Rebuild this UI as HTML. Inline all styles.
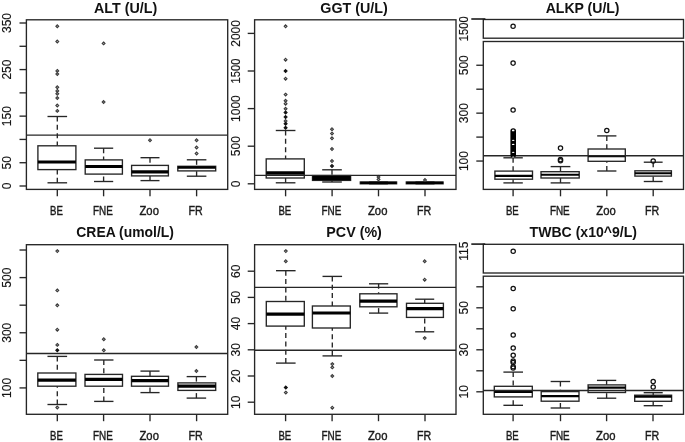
<!DOCTYPE html>
<html><head><meta charset="utf-8"><style>
html,body{margin:0;padding:0;background:#fff;}
body{width:685px;height:442px;overflow:hidden;}
svg{display:block;will-change:transform;font-family:"Liberation Sans",sans-serif;}
</style></head><body>
<svg width="685" height="442" viewBox="0 0 685 442">
<rect width="685" height="442" fill="#fff"/>
<line x1="57.30" y1="116.50" x2="57.30" y2="145.80" stroke="#262626" stroke-width="1.35" stroke-dasharray="5.0,3.35"/>
<line x1="57.30" y1="182.80" x2="57.30" y2="169.60" stroke="#262626" stroke-width="1.35" stroke-dasharray="5.0,3.35"/>
<line x1="47.50" y1="116.50" x2="67.10" y2="116.50" stroke="#262626" stroke-width="1.35"/>
<line x1="47.50" y1="182.80" x2="67.10" y2="182.80" stroke="#262626" stroke-width="1.35"/>
<rect x="37.90" y="145.80" width="38.00" height="23.80" fill="#fff" stroke="#262626" stroke-width="1.35"/>
<line x1="37.90" y1="162.00" x2="75.90" y2="162.00" stroke="#000" stroke-width="3.2"/>
<path d="M57.30 24.75L58.75 26.20L57.30 27.65L55.85 26.20Z" fill="#b0b0b0" stroke="#3a3a3a" stroke-width="1.05"/>
<path d="M57.30 40.05L58.75 41.50L57.30 42.95L55.85 41.50Z" fill="#b0b0b0" stroke="#3a3a3a" stroke-width="1.05"/>
<path d="M57.30 69.45L58.75 70.90L57.30 72.35L55.85 70.90Z" fill="#b0b0b0" stroke="#3a3a3a" stroke-width="1.05"/>
<path d="M57.30 72.55L58.75 74.00L57.30 75.45L55.85 74.00Z" fill="#b0b0b0" stroke="#3a3a3a" stroke-width="1.05"/>
<path d="M57.30 85.75L58.75 87.20L57.30 88.65L55.85 87.20Z" fill="#b0b0b0" stroke="#3a3a3a" stroke-width="1.05"/>
<path d="M57.30 89.45L58.75 90.90L57.30 92.35L55.85 90.90Z" fill="#b0b0b0" stroke="#3a3a3a" stroke-width="1.05"/>
<path d="M57.30 92.35L58.75 93.80L57.30 95.25L55.85 93.80Z" fill="#b0b0b0" stroke="#3a3a3a" stroke-width="1.05"/>
<path d="M57.30 96.55L58.75 98.00L57.30 99.45L55.85 98.00Z" fill="#b0b0b0" stroke="#3a3a3a" stroke-width="1.05"/>
<path d="M57.30 104.05L58.75 105.50L57.30 106.95L55.85 105.50Z" fill="#b0b0b0" stroke="#3a3a3a" stroke-width="1.05"/>
<path d="M57.30 109.45L58.75 110.90L57.30 112.35L55.85 110.90Z" fill="#b0b0b0" stroke="#3a3a3a" stroke-width="1.05"/>
<line x1="103.60" y1="148.20" x2="103.60" y2="159.90" stroke="#262626" stroke-width="1.35" stroke-dasharray="5.0,3.35"/>
<line x1="103.60" y1="181.50" x2="103.60" y2="174.10" stroke="#262626" stroke-width="1.35" stroke-dasharray="5.0,3.35"/>
<line x1="94.00" y1="148.20" x2="113.20" y2="148.20" stroke="#262626" stroke-width="1.35"/>
<line x1="94.00" y1="181.50" x2="113.20" y2="181.50" stroke="#262626" stroke-width="1.35"/>
<rect x="85.20" y="159.90" width="37.20" height="14.20" fill="#fff" stroke="#262626" stroke-width="1.35"/>
<line x1="85.20" y1="166.50" x2="122.40" y2="166.50" stroke="#000" stroke-width="3.2"/>
<path d="M103.60 41.95L105.05 43.40L103.60 44.85L102.15 43.40Z" fill="#b0b0b0" stroke="#3a3a3a" stroke-width="1.05"/>
<path d="M103.60 100.55L105.05 102.00L103.60 103.45L102.15 102.00Z" fill="#b0b0b0" stroke="#3a3a3a" stroke-width="1.05"/>
<line x1="150.00" y1="157.70" x2="150.00" y2="165.40" stroke="#262626" stroke-width="1.35" stroke-dasharray="5.0,3.35"/>
<line x1="150.00" y1="180.60" x2="150.00" y2="175.90" stroke="#262626" stroke-width="1.35" stroke-dasharray="5.0,3.35"/>
<line x1="140.50" y1="157.70" x2="159.50" y2="157.70" stroke="#262626" stroke-width="1.35"/>
<line x1="140.50" y1="180.60" x2="159.50" y2="180.60" stroke="#262626" stroke-width="1.35"/>
<rect x="131.60" y="165.40" width="36.80" height="10.50" fill="#fff" stroke="#262626" stroke-width="1.35"/>
<line x1="131.60" y1="171.80" x2="168.40" y2="171.80" stroke="#000" stroke-width="3.2"/>
<path d="M150.00 138.75L151.45 140.20L150.00 141.65L148.55 140.20Z" fill="#b0b0b0" stroke="#3a3a3a" stroke-width="1.05"/>
<line x1="196.60" y1="159.80" x2="196.60" y2="166.30" stroke="#262626" stroke-width="1.35" stroke-dasharray="5.0,3.35"/>
<line x1="196.60" y1="176.20" x2="196.60" y2="170.90" stroke="#262626" stroke-width="1.35" stroke-dasharray="5.0,3.35"/>
<line x1="186.82" y1="159.80" x2="206.38" y2="159.80" stroke="#262626" stroke-width="1.35"/>
<line x1="186.82" y1="176.20" x2="206.38" y2="176.20" stroke="#262626" stroke-width="1.35"/>
<rect x="177.80" y="166.30" width="37.90" height="4.60" fill="#fff" stroke="#262626" stroke-width="1.35"/>
<line x1="177.80" y1="167.50" x2="215.70" y2="167.50" stroke="#000" stroke-width="2.6"/>
<path d="M196.60 138.75L198.05 140.20L196.60 141.65L195.15 140.20Z" fill="#b0b0b0" stroke="#3a3a3a" stroke-width="1.05"/>
<path d="M196.60 146.05L198.05 147.50L196.60 148.95L195.15 147.50Z" fill="#b0b0b0" stroke="#3a3a3a" stroke-width="1.05"/>
<path d="M196.60 152.05L198.05 153.50L196.60 154.95L195.15 153.50Z" fill="#b0b0b0" stroke="#3a3a3a" stroke-width="1.05"/>
<line x1="26.40" y1="135.10" x2="227.70" y2="135.10" stroke="#262626" stroke-width="1.35"/>
<rect x="26.40" y="19.80" width="201.30" height="169.60" fill="none" stroke="#262626" stroke-width="1.35"/>
<line x1="19.50" y1="186.00" x2="26.40" y2="186.00" stroke="#262626" stroke-width="1.35"/>
<line x1="19.50" y1="162.72" x2="26.40" y2="162.72" stroke="#262626" stroke-width="1.35"/>
<line x1="19.50" y1="139.43" x2="26.40" y2="139.43" stroke="#262626" stroke-width="1.35"/>
<line x1="19.50" y1="116.14" x2="26.40" y2="116.14" stroke="#262626" stroke-width="1.35"/>
<line x1="19.50" y1="92.86" x2="26.40" y2="92.86" stroke="#262626" stroke-width="1.35"/>
<line x1="19.50" y1="69.58" x2="26.40" y2="69.58" stroke="#262626" stroke-width="1.35"/>
<line x1="19.50" y1="46.29" x2="26.40" y2="46.29" stroke="#262626" stroke-width="1.35"/>
<line x1="19.50" y1="23.00" x2="26.40" y2="23.00" stroke="#262626" stroke-width="1.35"/>
<text transform="translate(11.40,186.00) rotate(-90) scale(0.97,1)" text-anchor="middle" font-size="12.4" fill="#141414" stroke="#141414" stroke-width="0.15">0</text>
<text transform="translate(11.40,162.72) rotate(-90) scale(0.97,1)" text-anchor="middle" font-size="12.4" fill="#141414" stroke="#141414" stroke-width="0.15">50</text>
<text transform="translate(11.40,116.14) rotate(-90) scale(0.97,1)" text-anchor="middle" font-size="12.4" fill="#141414" stroke="#141414" stroke-width="0.15">150</text>
<text transform="translate(11.40,69.58) rotate(-90) scale(0.97,1)" text-anchor="middle" font-size="12.4" fill="#141414" stroke="#141414" stroke-width="0.15">250</text>
<text transform="translate(11.40,23.00) rotate(-90) scale(0.97,1)" text-anchor="middle" font-size="12.4" fill="#141414" stroke="#141414" stroke-width="0.15">350</text>
<line x1="57.30" y1="189.40" x2="57.30" y2="196.30" stroke="#262626" stroke-width="1.35"/>
<text x="56.50" y="215.00" text-anchor="middle" font-size="12.2" textLength="12.8" lengthAdjust="spacingAndGlyphs" fill="#1a1a1a" stroke="#1a1a1a" stroke-width="0.4">BE</text>
<line x1="103.60" y1="189.40" x2="103.60" y2="196.30" stroke="#262626" stroke-width="1.35"/>
<text x="102.90" y="215.00" text-anchor="middle" font-size="12.2" textLength="19.8" lengthAdjust="spacingAndGlyphs" fill="#1a1a1a" stroke="#1a1a1a" stroke-width="0.4">FNE</text>
<line x1="150.00" y1="189.40" x2="150.00" y2="196.30" stroke="#262626" stroke-width="1.35"/>
<text x="149.20" y="215.00" text-anchor="middle" font-size="12.2" textLength="19.4" lengthAdjust="spacingAndGlyphs" fill="#1a1a1a" stroke="#1a1a1a" stroke-width="0.4">Zoo</text>
<line x1="196.60" y1="189.40" x2="196.60" y2="196.30" stroke="#262626" stroke-width="1.35"/>
<text x="195.60" y="215.00" text-anchor="middle" font-size="12.2" textLength="14.2" lengthAdjust="spacingAndGlyphs" fill="#1a1a1a" stroke="#1a1a1a" stroke-width="0.4">FR</text>
<text transform="translate(125.60,12.50) scale(0.94,1)" text-anchor="middle" font-size="15.2" font-weight="bold" fill="#111">ALT (U/L)</text>
<line x1="285.60" y1="130.50" x2="285.60" y2="158.90" stroke="#262626" stroke-width="1.35" stroke-dasharray="5.0,3.35"/>
<line x1="285.60" y1="182.80" x2="285.60" y2="178.00" stroke="#262626" stroke-width="1.35" stroke-dasharray="5.0,3.35"/>
<line x1="275.78" y1="130.50" x2="295.43" y2="130.50" stroke="#262626" stroke-width="1.35"/>
<line x1="275.78" y1="182.80" x2="295.43" y2="182.80" stroke="#262626" stroke-width="1.35"/>
<rect x="266.20" y="158.90" width="38.10" height="19.10" fill="#fff" stroke="#262626" stroke-width="1.35"/>
<line x1="266.20" y1="173.00" x2="304.30" y2="173.00" stroke="#000" stroke-width="3.3"/>
<path d="M285.60 24.85L287.05 26.30L285.60 27.75L284.15 26.30Z" fill="#b0b0b0" stroke="#3a3a3a" stroke-width="1.05"/>
<path d="M285.60 58.25L287.05 59.70L285.60 61.15L284.15 59.70Z" fill="#b0b0b0" stroke="#3a3a3a" stroke-width="1.05"/>
<path d="M285.60 69.60L287.10 71.10L285.60 72.60L284.10 71.10Z" fill="#111" stroke="#111" stroke-width="1.05"/>
<path d="M285.60 77.25L287.05 78.70L285.60 80.15L284.15 78.70Z" fill="#b0b0b0" stroke="#3a3a3a" stroke-width="1.05"/>
<path d="M285.60 93.15L287.05 94.60L285.60 96.05L284.15 94.60Z" fill="#b0b0b0" stroke="#3a3a3a" stroke-width="1.05"/>
<path d="M285.60 99.35L287.05 100.80L285.60 102.25L284.15 100.80Z" fill="#b0b0b0" stroke="#3a3a3a" stroke-width="1.05"/>
<path d="M285.60 102.25L287.05 103.70L285.60 105.15L284.15 103.70Z" fill="#b0b0b0" stroke="#3a3a3a" stroke-width="1.05"/>
<path d="M285.60 107.35L287.05 108.80L285.60 110.25L284.15 108.80Z" fill="#b0b0b0" stroke="#3a3a3a" stroke-width="1.05"/>
<path d="M285.60 111.00L287.10 112.50L285.60 114.00L284.10 112.50Z" fill="#111" stroke="#111" stroke-width="1.05"/>
<path d="M285.60 115.50L287.10 117.00L285.60 118.50L284.10 117.00Z" fill="#111" stroke="#111" stroke-width="1.05"/>
<path d="M285.60 119.55L287.05 121.00L285.60 122.45L284.15 121.00Z" fill="#b0b0b0" stroke="#3a3a3a" stroke-width="1.05"/>
<path d="M285.60 122.20L287.10 123.70L285.60 125.20L284.10 123.70Z" fill="#111" stroke="#111" stroke-width="1.05"/>
<path d="M285.60 126.30L287.10 127.80L285.60 129.30L284.10 127.80Z" fill="#111" stroke="#111" stroke-width="1.05"/>
<line x1="332.00" y1="169.80" x2="332.00" y2="175.60" stroke="#262626" stroke-width="1.35" stroke-dasharray="5.0,3.35"/>
<line x1="332.00" y1="182.00" x2="332.00" y2="180.40" stroke="#262626" stroke-width="1.35" stroke-dasharray="5.0,3.35"/>
<line x1="322.18" y1="169.80" x2="341.82" y2="169.80" stroke="#262626" stroke-width="1.35"/>
<line x1="322.18" y1="182.00" x2="341.82" y2="182.00" stroke="#262626" stroke-width="1.35"/>
<rect x="312.50" y="175.60" width="38.10" height="4.80" fill="#fff" stroke="#262626" stroke-width="1.35"/>
<line x1="312.50" y1="178.00" x2="350.60" y2="178.00" stroke="#000" stroke-width="4.6"/>
<path d="M332.00 127.75L333.45 129.20L332.00 130.65L330.55 129.20Z" fill="#b0b0b0" stroke="#3a3a3a" stroke-width="1.05"/>
<path d="M332.00 132.15L333.45 133.60L332.00 135.05L330.55 133.60Z" fill="#b0b0b0" stroke="#3a3a3a" stroke-width="1.05"/>
<path d="M332.00 136.85L333.45 138.30L332.00 139.75L330.55 138.30Z" fill="#b0b0b0" stroke="#3a3a3a" stroke-width="1.05"/>
<path d="M332.00 147.55L333.45 149.00L332.00 150.45L330.55 149.00Z" fill="#b0b0b0" stroke="#3a3a3a" stroke-width="1.05"/>
<path d="M332.00 159.55L333.45 161.00L332.00 162.45L330.55 161.00Z" fill="#b0b0b0" stroke="#3a3a3a" stroke-width="1.05"/>
<path d="M332.00 164.50L333.50 166.00L332.00 167.50L330.50 166.00Z" fill="#111" stroke="#111" stroke-width="1.05"/>
<line x1="369.12" y1="182.00" x2="387.88" y2="182.00" stroke="#262626" stroke-width="1.35"/>
<line x1="369.12" y1="183.80" x2="387.88" y2="183.80" stroke="#262626" stroke-width="1.35"/>
<rect x="360.30" y="182.00" width="36.30" height="1.80" fill="#fff" stroke="#262626" stroke-width="1.35"/>
<line x1="360.30" y1="182.90" x2="396.60" y2="182.90" stroke="#000" stroke-width="2.4"/>
<path d="M378.50 175.55L379.95 177.00L378.50 178.45L377.05 177.00Z" fill="#b0b0b0" stroke="#3a3a3a" stroke-width="1.05"/>
<path d="M378.50 177.95L379.95 179.40L378.50 180.85L377.05 179.40Z" fill="#b0b0b0" stroke="#3a3a3a" stroke-width="1.05"/>
<line x1="415.50" y1="182.00" x2="434.50" y2="182.00" stroke="#262626" stroke-width="1.35"/>
<line x1="415.50" y1="183.80" x2="434.50" y2="183.80" stroke="#262626" stroke-width="1.35"/>
<rect x="406.30" y="182.00" width="36.80" height="1.80" fill="#fff" stroke="#262626" stroke-width="1.35"/>
<line x1="406.30" y1="182.90" x2="443.10" y2="182.90" stroke="#000" stroke-width="2.4"/>
<path d="M425.00 178.55L426.45 180.00L425.00 181.45L423.55 180.00Z" fill="#b0b0b0" stroke="#3a3a3a" stroke-width="1.05"/>
<line x1="254.60" y1="175.30" x2="456.00" y2="175.30" stroke="#262626" stroke-width="1.35"/>
<rect x="254.60" y="19.80" width="201.40" height="169.60" fill="none" stroke="#262626" stroke-width="1.35"/>
<line x1="247.70" y1="183.80" x2="254.60" y2="183.80" stroke="#262626" stroke-width="1.35"/>
<line x1="247.70" y1="146.20" x2="254.60" y2="146.20" stroke="#262626" stroke-width="1.35"/>
<line x1="247.70" y1="108.60" x2="254.60" y2="108.60" stroke="#262626" stroke-width="1.35"/>
<line x1="247.70" y1="71.00" x2="254.60" y2="71.00" stroke="#262626" stroke-width="1.35"/>
<line x1="247.70" y1="33.40" x2="254.60" y2="33.40" stroke="#262626" stroke-width="1.35"/>
<text transform="translate(239.60,183.80) rotate(-90) scale(0.97,1)" text-anchor="middle" font-size="12.4" fill="#141414" stroke="#141414" stroke-width="0.15">0</text>
<text transform="translate(239.60,146.20) rotate(-90) scale(0.97,1)" text-anchor="middle" font-size="12.4" fill="#141414" stroke="#141414" stroke-width="0.15">500</text>
<text transform="translate(239.60,108.60) rotate(-90) scale(0.97,1)" text-anchor="middle" font-size="12.4" fill="#141414" stroke="#141414" stroke-width="0.15">1000</text>
<text transform="translate(239.60,71.00) rotate(-90) scale(0.9,1)" text-anchor="middle" font-size="12.4" fill="#141414" stroke="#141414" stroke-width="0.15">1500</text>
<text transform="translate(239.60,33.40) rotate(-90) scale(0.97,1)" text-anchor="middle" font-size="12.4" fill="#141414" stroke="#141414" stroke-width="0.15">2000</text>
<line x1="285.60" y1="189.40" x2="285.60" y2="196.30" stroke="#262626" stroke-width="1.35"/>
<text x="284.80" y="215.00" text-anchor="middle" font-size="12.2" textLength="12.8" lengthAdjust="spacingAndGlyphs" fill="#1a1a1a" stroke="#1a1a1a" stroke-width="0.4">BE</text>
<line x1="332.10" y1="189.40" x2="332.10" y2="196.30" stroke="#262626" stroke-width="1.35"/>
<text x="331.40" y="215.00" text-anchor="middle" font-size="12.2" textLength="19.8" lengthAdjust="spacingAndGlyphs" fill="#1a1a1a" stroke="#1a1a1a" stroke-width="0.4">FNE</text>
<line x1="378.50" y1="189.40" x2="378.50" y2="196.30" stroke="#262626" stroke-width="1.35"/>
<text x="377.70" y="215.00" text-anchor="middle" font-size="12.2" textLength="19.4" lengthAdjust="spacingAndGlyphs" fill="#1a1a1a" stroke="#1a1a1a" stroke-width="0.4">Zoo</text>
<line x1="425.00" y1="189.40" x2="425.00" y2="196.30" stroke="#262626" stroke-width="1.35"/>
<text x="424.00" y="215.00" text-anchor="middle" font-size="12.2" textLength="14.2" lengthAdjust="spacingAndGlyphs" fill="#1a1a1a" stroke="#1a1a1a" stroke-width="0.4">FR</text>
<text transform="translate(354.00,12.50) scale(0.94,1)" text-anchor="middle" font-size="15.2" font-weight="bold" fill="#111">GGT (U/L)</text>
<line x1="513.10" y1="157.80" x2="513.10" y2="171.10" stroke="#262626" stroke-width="1.35" stroke-dasharray="5.0,3.35"/>
<line x1="513.10" y1="182.90" x2="513.10" y2="179.20" stroke="#262626" stroke-width="1.35" stroke-dasharray="5.0,3.35"/>
<line x1="503.40" y1="157.80" x2="522.80" y2="157.80" stroke="#262626" stroke-width="1.35"/>
<line x1="503.40" y1="182.90" x2="522.80" y2="182.90" stroke="#262626" stroke-width="1.35"/>
<rect x="494.90" y="171.10" width="37.60" height="8.10" fill="#fff" stroke="#262626" stroke-width="1.35"/>
<line x1="494.90" y1="175.80" x2="532.50" y2="175.80" stroke="#000" stroke-width="2.2"/>
<circle cx="513.10" cy="26.30" r="2.15" fill="none" stroke="#111" stroke-width="1.25"/>
<circle cx="513.10" cy="63.10" r="2.15" fill="none" stroke="#111" stroke-width="1.25"/>
<circle cx="513.10" cy="109.90" r="2.15" fill="none" stroke="#111" stroke-width="1.25"/>
<line x1="560.50" y1="166.60" x2="560.50" y2="171.70" stroke="#262626" stroke-width="1.35" stroke-dasharray="5.0,3.35"/>
<line x1="560.50" y1="182.90" x2="560.50" y2="178.00" stroke="#262626" stroke-width="1.35" stroke-dasharray="5.0,3.35"/>
<line x1="550.65" y1="166.60" x2="570.35" y2="166.60" stroke="#262626" stroke-width="1.35"/>
<line x1="550.65" y1="182.90" x2="570.35" y2="182.90" stroke="#262626" stroke-width="1.35"/>
<rect x="541.00" y="171.70" width="38.20" height="6.30" fill="#fff" stroke="#262626" stroke-width="1.35"/>
<line x1="541.00" y1="174.70" x2="579.20" y2="174.70" stroke="#000" stroke-width="2.0"/>
<circle cx="560.50" cy="148.10" r="2.15" fill="none" stroke="#111" stroke-width="1.25"/>
<circle cx="560.50" cy="159.60" r="2.15" fill="none" stroke="#111" stroke-width="1.25"/>
<circle cx="560.50" cy="160.80" r="2.15" fill="none" stroke="#111" stroke-width="1.25"/>
<line x1="606.80" y1="135.90" x2="606.80" y2="149.00" stroke="#262626" stroke-width="1.35" stroke-dasharray="5.0,3.35"/>
<line x1="606.80" y1="171.00" x2="606.80" y2="161.30" stroke="#262626" stroke-width="1.35" stroke-dasharray="5.0,3.35"/>
<line x1="597.20" y1="135.90" x2="616.40" y2="135.90" stroke="#262626" stroke-width="1.35"/>
<line x1="597.20" y1="171.00" x2="616.40" y2="171.00" stroke="#262626" stroke-width="1.35"/>
<rect x="588.10" y="149.00" width="37.20" height="12.30" fill="#fff" stroke="#262626" stroke-width="1.35"/>
<line x1="588.10" y1="156.20" x2="625.30" y2="156.20" stroke="#000" stroke-width="2.2"/>
<circle cx="606.80" cy="130.50" r="2.15" fill="none" stroke="#111" stroke-width="1.25"/>
<line x1="653.20" y1="162.20" x2="653.20" y2="170.80" stroke="#262626" stroke-width="1.35" stroke-dasharray="5.0,3.35"/>
<line x1="653.20" y1="181.50" x2="653.20" y2="176.10" stroke="#262626" stroke-width="1.35" stroke-dasharray="5.0,3.35"/>
<line x1="643.78" y1="162.20" x2="662.62" y2="162.20" stroke="#262626" stroke-width="1.35"/>
<line x1="643.78" y1="181.50" x2="662.62" y2="181.50" stroke="#262626" stroke-width="1.35"/>
<rect x="634.90" y="170.80" width="36.50" height="5.30" fill="#fff" stroke="#262626" stroke-width="1.35"/>
<line x1="634.90" y1="173.30" x2="671.40" y2="173.30" stroke="#000" stroke-width="2.0"/>
<circle cx="653.20" cy="160.90" r="2.15" fill="none" stroke="#111" stroke-width="1.25"/>
<line x1="483.30" y1="155.70" x2="683.50" y2="155.70" stroke="#262626" stroke-width="1.35"/>
<rect x="483.30" y="19.50" width="200.20" height="18.70" fill="none" stroke="#262626" stroke-width="1.35"/>
<rect x="483.30" y="41.50" width="200.20" height="147.90" fill="none" stroke="#262626" stroke-width="1.35"/>
<line x1="476.30" y1="161.05" x2="483.30" y2="161.05" stroke="#262626" stroke-width="1.35"/>
<line x1="476.30" y1="137.10" x2="483.30" y2="137.10" stroke="#262626" stroke-width="1.35"/>
<line x1="476.30" y1="113.15" x2="483.30" y2="113.15" stroke="#262626" stroke-width="1.35"/>
<line x1="476.30" y1="89.20" x2="483.30" y2="89.20" stroke="#262626" stroke-width="1.35"/>
<line x1="476.30" y1="65.25" x2="483.30" y2="65.25" stroke="#262626" stroke-width="1.35"/>
<text transform="translate(468.20,161.05) rotate(-90) scale(0.97,1)" text-anchor="middle" font-size="12.4" fill="#141414" stroke="#141414" stroke-width="0.15">100</text>
<text transform="translate(468.20,113.15) rotate(-90) scale(0.97,1)" text-anchor="middle" font-size="12.4" fill="#141414" stroke="#141414" stroke-width="0.15">300</text>
<text transform="translate(468.20,65.25) rotate(-90) scale(0.97,1)" text-anchor="middle" font-size="12.4" fill="#141414" stroke="#141414" stroke-width="0.15">500</text>
<text transform="translate(468.20,28.80) rotate(-90) scale(0.9,1)" text-anchor="middle" font-size="12.4" fill="#141414" stroke="#141414" stroke-width="0.15">1500</text>
<line x1="471.30" y1="19.00" x2="485.40" y2="19.00" stroke="#1a1a1a" stroke-width="1.6"/>
<line x1="513.10" y1="189.40" x2="513.10" y2="196.30" stroke="#262626" stroke-width="1.35"/>
<text x="512.30" y="215.00" text-anchor="middle" font-size="12.2" textLength="12.8" lengthAdjust="spacingAndGlyphs" fill="#1a1a1a" stroke="#1a1a1a" stroke-width="0.4">BE</text>
<line x1="560.50" y1="189.40" x2="560.50" y2="196.30" stroke="#262626" stroke-width="1.35"/>
<text x="559.80" y="215.00" text-anchor="middle" font-size="12.2" textLength="19.8" lengthAdjust="spacingAndGlyphs" fill="#1a1a1a" stroke="#1a1a1a" stroke-width="0.4">FNE</text>
<line x1="606.80" y1="189.40" x2="606.80" y2="196.30" stroke="#262626" stroke-width="1.35"/>
<text x="606.00" y="215.00" text-anchor="middle" font-size="12.2" textLength="19.4" lengthAdjust="spacingAndGlyphs" fill="#1a1a1a" stroke="#1a1a1a" stroke-width="0.4">Zoo</text>
<line x1="653.20" y1="189.40" x2="653.20" y2="196.30" stroke="#262626" stroke-width="1.35"/>
<text x="652.20" y="215.00" text-anchor="middle" font-size="12.2" textLength="14.2" lengthAdjust="spacingAndGlyphs" fill="#1a1a1a" stroke="#1a1a1a" stroke-width="0.4">FR</text>
<text transform="translate(582.60,12.50) scale(0.9259,1)" text-anchor="middle" font-size="15.2" font-weight="bold" fill="#111">ALKP (U/L)</text>
<rect x="510.4" y="128.3" width="5.6" height="29.5" rx="2.8" fill="#000"/>
<ellipse cx="513.2" cy="130.4" rx="1.3" ry="0.9" fill="#fff"/>
<ellipse cx="513.2" cy="140.3" rx="1.3" ry="0.6" fill="#fff"/>
<ellipse cx="513.2" cy="144.4" rx="1.3" ry="0.6" fill="#fff"/>
<ellipse cx="513.2" cy="152.3" rx="1.3" ry="0.6" fill="#fff"/>
<ellipse cx="513.2" cy="156.9" rx="1.2" ry="0.5" fill="#fff"/>
<line x1="57.30" y1="356.40" x2="57.30" y2="373.00" stroke="#262626" stroke-width="1.35" stroke-dasharray="5.0,3.35"/>
<line x1="57.30" y1="404.50" x2="57.30" y2="386.20" stroke="#262626" stroke-width="1.35" stroke-dasharray="5.0,3.35"/>
<line x1="47.47" y1="356.40" x2="67.12" y2="356.40" stroke="#262626" stroke-width="1.35"/>
<line x1="47.47" y1="404.50" x2="67.12" y2="404.50" stroke="#262626" stroke-width="1.35"/>
<rect x="37.80" y="373.00" width="38.10" height="13.20" fill="#fff" stroke="#262626" stroke-width="1.35"/>
<line x1="37.80" y1="380.20" x2="75.90" y2="380.20" stroke="#000" stroke-width="3.2"/>
<path d="M57.30 249.65L58.75 251.10L57.30 252.55L55.85 251.10Z" fill="#b0b0b0" stroke="#3a3a3a" stroke-width="1.05"/>
<path d="M57.30 288.95L58.75 290.40L57.30 291.85L55.85 290.40Z" fill="#b0b0b0" stroke="#3a3a3a" stroke-width="1.05"/>
<path d="M57.30 303.85L58.75 305.30L57.30 306.75L55.85 305.30Z" fill="#b0b0b0" stroke="#3a3a3a" stroke-width="1.05"/>
<path d="M57.30 328.25L58.75 329.70L57.30 331.15L55.85 329.70Z" fill="#b0b0b0" stroke="#3a3a3a" stroke-width="1.05"/>
<path d="M57.30 343.45L58.75 344.90L57.30 346.35L55.85 344.90Z" fill="#b0b0b0" stroke="#3a3a3a" stroke-width="1.05"/>
<path d="M57.30 348.80L58.80 350.30L57.30 351.80L55.80 350.30Z" fill="#111" stroke="#111" stroke-width="1.05"/>
<path d="M57.30 406.05L58.75 407.50L57.30 408.95L55.85 407.50Z" fill="#b0b0b0" stroke="#3a3a3a" stroke-width="1.05"/>
<line x1="103.80" y1="360.00" x2="103.80" y2="374.40" stroke="#262626" stroke-width="1.35" stroke-dasharray="5.0,3.35"/>
<line x1="103.80" y1="401.40" x2="103.80" y2="386.20" stroke="#262626" stroke-width="1.35" stroke-dasharray="5.0,3.35"/>
<line x1="94.12" y1="360.00" x2="113.47" y2="360.00" stroke="#262626" stroke-width="1.35"/>
<line x1="94.12" y1="401.40" x2="113.47" y2="401.40" stroke="#262626" stroke-width="1.35"/>
<rect x="85.00" y="374.40" width="37.50" height="11.80" fill="#fff" stroke="#262626" stroke-width="1.35"/>
<line x1="85.00" y1="379.30" x2="122.50" y2="379.30" stroke="#000" stroke-width="3.2"/>
<path d="M103.80 337.75L105.25 339.20L103.80 340.65L102.35 339.20Z" fill="#b0b0b0" stroke="#3a3a3a" stroke-width="1.05"/>
<path d="M103.80 348.85L105.25 350.30L103.80 351.75L102.35 350.30Z" fill="#b0b0b0" stroke="#3a3a3a" stroke-width="1.05"/>
<line x1="150.00" y1="371.10" x2="150.00" y2="376.30" stroke="#262626" stroke-width="1.35" stroke-dasharray="5.0,3.35"/>
<line x1="150.00" y1="392.60" x2="150.00" y2="386.20" stroke="#262626" stroke-width="1.35" stroke-dasharray="5.0,3.35"/>
<line x1="140.45" y1="371.10" x2="159.55" y2="371.10" stroke="#262626" stroke-width="1.35"/>
<line x1="140.45" y1="392.60" x2="159.55" y2="392.60" stroke="#262626" stroke-width="1.35"/>
<rect x="131.50" y="376.30" width="37.00" height="9.90" fill="#fff" stroke="#262626" stroke-width="1.35"/>
<line x1="131.50" y1="380.70" x2="168.50" y2="380.70" stroke="#000" stroke-width="3.2"/>
<line x1="196.40" y1="376.60" x2="196.40" y2="382.90" stroke="#262626" stroke-width="1.35" stroke-dasharray="5.0,3.35"/>
<line x1="196.40" y1="398.10" x2="196.40" y2="390.40" stroke="#262626" stroke-width="1.35" stroke-dasharray="5.0,3.35"/>
<line x1="186.65" y1="376.60" x2="206.15" y2="376.60" stroke="#262626" stroke-width="1.35"/>
<line x1="186.65" y1="398.10" x2="206.15" y2="398.10" stroke="#262626" stroke-width="1.35"/>
<rect x="177.90" y="382.90" width="37.80" height="7.50" fill="#fff" stroke="#262626" stroke-width="1.35"/>
<line x1="177.90" y1="386.20" x2="215.70" y2="386.20" stroke="#000" stroke-width="3.2"/>
<path d="M196.40 345.55L197.85 347.00L196.40 348.45L194.95 347.00Z" fill="#b0b0b0" stroke="#3a3a3a" stroke-width="1.05"/>
<path d="M196.40 369.55L197.85 371.00L196.40 372.45L194.95 371.00Z" fill="#b0b0b0" stroke="#3a3a3a" stroke-width="1.05"/>
<line x1="26.40" y1="353.50" x2="227.70" y2="353.50" stroke="#262626" stroke-width="1.35"/>
<rect x="26.40" y="244.70" width="201.30" height="169.60" fill="none" stroke="#262626" stroke-width="1.35"/>
<line x1="19.50" y1="387.92" x2="26.40" y2="387.92" stroke="#262626" stroke-width="1.35"/>
<line x1="19.50" y1="360.34" x2="26.40" y2="360.34" stroke="#262626" stroke-width="1.35"/>
<line x1="19.50" y1="332.76" x2="26.40" y2="332.76" stroke="#262626" stroke-width="1.35"/>
<line x1="19.50" y1="305.18" x2="26.40" y2="305.18" stroke="#262626" stroke-width="1.35"/>
<line x1="19.50" y1="277.60" x2="26.40" y2="277.60" stroke="#262626" stroke-width="1.35"/>
<line x1="19.50" y1="250.02" x2="26.40" y2="250.02" stroke="#262626" stroke-width="1.35"/>
<text transform="translate(11.40,387.92) rotate(-90) scale(0.97,1)" text-anchor="middle" font-size="12.4" fill="#141414" stroke="#141414" stroke-width="0.15">100</text>
<text transform="translate(11.40,332.76) rotate(-90) scale(0.97,1)" text-anchor="middle" font-size="12.4" fill="#141414" stroke="#141414" stroke-width="0.15">300</text>
<text transform="translate(11.40,277.60) rotate(-90) scale(0.97,1)" text-anchor="middle" font-size="12.4" fill="#141414" stroke="#141414" stroke-width="0.15">500</text>
<line x1="57.30" y1="414.30" x2="57.30" y2="421.20" stroke="#262626" stroke-width="1.35"/>
<text x="56.50" y="439.80" text-anchor="middle" font-size="12.2" textLength="12.8" lengthAdjust="spacingAndGlyphs" fill="#1a1a1a" stroke="#1a1a1a" stroke-width="0.4">BE</text>
<line x1="103.60" y1="414.30" x2="103.60" y2="421.20" stroke="#262626" stroke-width="1.35"/>
<text x="102.90" y="439.80" text-anchor="middle" font-size="12.2" textLength="19.8" lengthAdjust="spacingAndGlyphs" fill="#1a1a1a" stroke="#1a1a1a" stroke-width="0.4">FNE</text>
<line x1="150.00" y1="414.30" x2="150.00" y2="421.20" stroke="#262626" stroke-width="1.35"/>
<text x="149.20" y="439.80" text-anchor="middle" font-size="12.2" textLength="19.4" lengthAdjust="spacingAndGlyphs" fill="#1a1a1a" stroke="#1a1a1a" stroke-width="0.4">Zoo</text>
<line x1="196.60" y1="414.30" x2="196.60" y2="421.20" stroke="#262626" stroke-width="1.35"/>
<text x="195.60" y="439.80" text-anchor="middle" font-size="12.2" textLength="14.2" lengthAdjust="spacingAndGlyphs" fill="#1a1a1a" stroke="#1a1a1a" stroke-width="0.4">FR</text>
<text transform="translate(125.10,236.90) scale(0.9165,1)" text-anchor="middle" font-size="15.2" font-weight="bold" fill="#111">CREA (umol/L)</text>
<line x1="285.80" y1="270.70" x2="285.80" y2="301.50" stroke="#262626" stroke-width="1.35" stroke-dasharray="5.0,3.35"/>
<line x1="285.80" y1="363.10" x2="285.80" y2="326.10" stroke="#262626" stroke-width="1.35" stroke-dasharray="5.0,3.35"/>
<line x1="276.00" y1="270.70" x2="295.60" y2="270.70" stroke="#262626" stroke-width="1.35"/>
<line x1="276.00" y1="363.10" x2="295.60" y2="363.10" stroke="#262626" stroke-width="1.35"/>
<rect x="266.30" y="301.50" width="38.00" height="24.60" fill="#fff" stroke="#262626" stroke-width="1.35"/>
<line x1="266.30" y1="314.10" x2="304.30" y2="314.10" stroke="#000" stroke-width="3.2"/>
<path d="M285.80 249.65L287.25 251.10L285.80 252.55L284.35 251.10Z" fill="#b0b0b0" stroke="#3a3a3a" stroke-width="1.05"/>
<path d="M285.80 259.75L287.25 261.20L285.80 262.65L284.35 261.20Z" fill="#b0b0b0" stroke="#3a3a3a" stroke-width="1.05"/>
<path d="M285.80 386.10L287.30 387.60L285.80 389.10L284.30 387.60Z" fill="#111" stroke="#111" stroke-width="1.05"/>
<path d="M285.80 391.15L287.25 392.60L285.80 394.05L284.35 392.60Z" fill="#b0b0b0" stroke="#3a3a3a" stroke-width="1.05"/>
<line x1="332.30" y1="276.40" x2="332.30" y2="306.00" stroke="#262626" stroke-width="1.35" stroke-dasharray="5.0,3.35"/>
<line x1="332.30" y1="355.90" x2="332.30" y2="328.00" stroke="#262626" stroke-width="1.35" stroke-dasharray="5.0,3.35"/>
<line x1="322.52" y1="276.40" x2="342.08" y2="276.40" stroke="#262626" stroke-width="1.35"/>
<line x1="322.52" y1="355.90" x2="342.08" y2="355.90" stroke="#262626" stroke-width="1.35"/>
<rect x="312.40" y="306.00" width="37.90" height="22.00" fill="#fff" stroke="#262626" stroke-width="1.35"/>
<line x1="312.40" y1="313.00" x2="350.30" y2="313.00" stroke="#000" stroke-width="3.2"/>
<path d="M332.30 362.65L333.75 364.10L332.30 365.55L330.85 364.10Z" fill="#b0b0b0" stroke="#3a3a3a" stroke-width="1.05"/>
<path d="M332.30 365.95L333.75 367.40L332.30 368.85L330.85 367.40Z" fill="#b0b0b0" stroke="#3a3a3a" stroke-width="1.05"/>
<path d="M332.30 374.55L333.75 376.00L332.30 377.45L330.85 376.00Z" fill="#b0b0b0" stroke="#3a3a3a" stroke-width="1.05"/>
<path d="M332.30 406.25L333.75 407.70L332.30 409.15L330.85 407.70Z" fill="#b0b0b0" stroke="#3a3a3a" stroke-width="1.05"/>
<line x1="378.60" y1="283.80" x2="378.60" y2="293.80" stroke="#262626" stroke-width="1.35" stroke-dasharray="5.0,3.35"/>
<line x1="378.60" y1="313.10" x2="378.60" y2="306.80" stroke="#262626" stroke-width="1.35" stroke-dasharray="5.0,3.35"/>
<line x1="369.00" y1="283.80" x2="388.20" y2="283.80" stroke="#262626" stroke-width="1.35"/>
<line x1="369.00" y1="313.10" x2="388.20" y2="313.10" stroke="#262626" stroke-width="1.35"/>
<rect x="359.80" y="293.80" width="37.20" height="13.00" fill="#fff" stroke="#262626" stroke-width="1.35"/>
<line x1="359.80" y1="301.20" x2="397.00" y2="301.20" stroke="#000" stroke-width="3.2"/>
<line x1="424.70" y1="299.20" x2="424.70" y2="303.30" stroke="#262626" stroke-width="1.35" stroke-dasharray="5.0,3.35"/>
<line x1="424.70" y1="331.80" x2="424.70" y2="317.40" stroke="#262626" stroke-width="1.35" stroke-dasharray="5.0,3.35"/>
<line x1="415.18" y1="299.20" x2="434.22" y2="299.20" stroke="#262626" stroke-width="1.35"/>
<line x1="415.18" y1="331.80" x2="434.22" y2="331.80" stroke="#262626" stroke-width="1.35"/>
<rect x="406.50" y="303.30" width="36.90" height="14.10" fill="#fff" stroke="#262626" stroke-width="1.35"/>
<line x1="406.50" y1="308.70" x2="443.40" y2="308.70" stroke="#000" stroke-width="3.2"/>
<path d="M424.70 259.75L426.15 261.20L424.70 262.65L423.25 261.20Z" fill="#b0b0b0" stroke="#3a3a3a" stroke-width="1.05"/>
<path d="M424.70 278.25L426.15 279.70L424.70 281.15L423.25 279.70Z" fill="#b0b0b0" stroke="#3a3a3a" stroke-width="1.05"/>
<path d="M424.70 336.65L426.15 338.10L424.70 339.55L423.25 338.10Z" fill="#b0b0b0" stroke="#3a3a3a" stroke-width="1.05"/>
<line x1="254.60" y1="287.30" x2="456.00" y2="287.30" stroke="#262626" stroke-width="1.35"/>
<line x1="254.60" y1="350.20" x2="456.00" y2="350.20" stroke="#262626" stroke-width="1.35"/>
<rect x="254.60" y="244.70" width="201.40" height="169.60" fill="none" stroke="#262626" stroke-width="1.35"/>
<line x1="247.70" y1="402.20" x2="254.60" y2="402.20" stroke="#262626" stroke-width="1.35"/>
<line x1="247.70" y1="376.00" x2="254.60" y2="376.00" stroke="#262626" stroke-width="1.35"/>
<line x1="247.70" y1="349.80" x2="254.60" y2="349.80" stroke="#262626" stroke-width="1.35"/>
<line x1="247.70" y1="323.60" x2="254.60" y2="323.60" stroke="#262626" stroke-width="1.35"/>
<line x1="247.70" y1="297.40" x2="254.60" y2="297.40" stroke="#262626" stroke-width="1.35"/>
<line x1="247.70" y1="271.20" x2="254.60" y2="271.20" stroke="#262626" stroke-width="1.35"/>
<text transform="translate(239.60,402.20) rotate(-90) scale(0.97,1)" text-anchor="middle" font-size="12.4" fill="#141414" stroke="#141414" stroke-width="0.15">10</text>
<text transform="translate(239.60,376.00) rotate(-90) scale(0.97,1)" text-anchor="middle" font-size="12.4" fill="#141414" stroke="#141414" stroke-width="0.15">20</text>
<text transform="translate(239.60,349.80) rotate(-90) scale(0.97,1)" text-anchor="middle" font-size="12.4" fill="#141414" stroke="#141414" stroke-width="0.15">30</text>
<text transform="translate(239.60,323.60) rotate(-90) scale(0.97,1)" text-anchor="middle" font-size="12.4" fill="#141414" stroke="#141414" stroke-width="0.15">40</text>
<text transform="translate(239.60,297.40) rotate(-90) scale(0.97,1)" text-anchor="middle" font-size="12.4" fill="#141414" stroke="#141414" stroke-width="0.15">50</text>
<text transform="translate(239.60,271.20) rotate(-90) scale(0.97,1)" text-anchor="middle" font-size="12.4" fill="#141414" stroke="#141414" stroke-width="0.15">60</text>
<line x1="285.60" y1="414.30" x2="285.60" y2="421.20" stroke="#262626" stroke-width="1.35"/>
<text x="284.80" y="439.80" text-anchor="middle" font-size="12.2" textLength="12.8" lengthAdjust="spacingAndGlyphs" fill="#1a1a1a" stroke="#1a1a1a" stroke-width="0.4">BE</text>
<line x1="332.10" y1="414.30" x2="332.10" y2="421.20" stroke="#262626" stroke-width="1.35"/>
<text x="331.40" y="439.80" text-anchor="middle" font-size="12.2" textLength="19.8" lengthAdjust="spacingAndGlyphs" fill="#1a1a1a" stroke="#1a1a1a" stroke-width="0.4">FNE</text>
<line x1="378.50" y1="414.30" x2="378.50" y2="421.20" stroke="#262626" stroke-width="1.35"/>
<text x="377.70" y="439.80" text-anchor="middle" font-size="12.2" textLength="19.4" lengthAdjust="spacingAndGlyphs" fill="#1a1a1a" stroke="#1a1a1a" stroke-width="0.4">Zoo</text>
<line x1="425.00" y1="414.30" x2="425.00" y2="421.20" stroke="#262626" stroke-width="1.35"/>
<text x="424.00" y="439.80" text-anchor="middle" font-size="12.2" textLength="14.2" lengthAdjust="spacingAndGlyphs" fill="#1a1a1a" stroke="#1a1a1a" stroke-width="0.4">FR</text>
<text transform="translate(354.10,236.90) scale(0.94,1)" text-anchor="middle" font-size="15.2" font-weight="bold" fill="#111">PCV (%)</text>
<line x1="513.20" y1="372.10" x2="513.20" y2="386.30" stroke="#262626" stroke-width="1.35" stroke-dasharray="5.0,3.35"/>
<line x1="513.20" y1="405.30" x2="513.20" y2="396.90" stroke="#262626" stroke-width="1.35" stroke-dasharray="5.0,3.35"/>
<line x1="503.40" y1="372.10" x2="523.00" y2="372.10" stroke="#262626" stroke-width="1.35"/>
<line x1="503.40" y1="405.30" x2="523.00" y2="405.30" stroke="#262626" stroke-width="1.35"/>
<rect x="494.30" y="386.30" width="38.00" height="10.60" fill="#fff" stroke="#262626" stroke-width="1.35"/>
<line x1="494.30" y1="391.80" x2="532.30" y2="391.80" stroke="#000" stroke-width="2.2"/>
<circle cx="513.20" cy="251.30" r="2.15" fill="none" stroke="#111" stroke-width="1.25"/>
<circle cx="513.20" cy="288.40" r="2.15" fill="none" stroke="#111" stroke-width="1.25"/>
<circle cx="513.20" cy="308.70" r="2.15" fill="none" stroke="#111" stroke-width="1.25"/>
<circle cx="513.20" cy="335.00" r="2.15" fill="none" stroke="#111" stroke-width="1.25"/>
<circle cx="513.20" cy="348.00" r="2.15" fill="none" stroke="#111" stroke-width="1.25"/>
<circle cx="513.20" cy="355.30" r="2.15" fill="none" stroke="#111" stroke-width="1.25"/>
<circle cx="513.20" cy="361.10" r="2.15" fill="none" stroke="#111" stroke-width="1.25"/>
<circle cx="513.20" cy="362.40" r="2.15" fill="none" stroke="#111" stroke-width="1.25"/>
<circle cx="513.20" cy="366.70" r="2.15" fill="none" stroke="#111" stroke-width="1.25"/>
<circle cx="513.20" cy="368.00" r="2.15" fill="none" stroke="#111" stroke-width="1.25"/>
<line x1="560.40" y1="381.50" x2="560.40" y2="391.60" stroke="#262626" stroke-width="1.35" stroke-dasharray="5.0,3.35"/>
<line x1="560.40" y1="408.00" x2="560.40" y2="401.20" stroke="#262626" stroke-width="1.35" stroke-dasharray="5.0,3.35"/>
<line x1="550.65" y1="381.50" x2="570.15" y2="381.50" stroke="#262626" stroke-width="1.35"/>
<line x1="550.65" y1="408.00" x2="570.15" y2="408.00" stroke="#262626" stroke-width="1.35"/>
<rect x="541.20" y="391.60" width="37.80" height="9.60" fill="#fff" stroke="#262626" stroke-width="1.35"/>
<line x1="541.20" y1="396.20" x2="579.00" y2="396.20" stroke="#000" stroke-width="2.2"/>
<line x1="606.60" y1="380.40" x2="606.60" y2="384.90" stroke="#262626" stroke-width="1.35" stroke-dasharray="5.0,3.35"/>
<line x1="606.60" y1="398.20" x2="606.60" y2="392.50" stroke="#262626" stroke-width="1.35" stroke-dasharray="5.0,3.35"/>
<line x1="596.95" y1="380.40" x2="616.25" y2="380.40" stroke="#262626" stroke-width="1.35"/>
<line x1="596.95" y1="398.20" x2="616.25" y2="398.20" stroke="#262626" stroke-width="1.35"/>
<rect x="588.10" y="384.90" width="37.40" height="7.60" fill="#fff" stroke="#262626" stroke-width="1.35"/>
<line x1="588.10" y1="387.70" x2="625.50" y2="387.70" stroke="#000" stroke-width="2.2"/>
<line x1="653.20" y1="392.70" x2="653.20" y2="395.20" stroke="#262626" stroke-width="1.35" stroke-dasharray="5.0,3.35"/>
<line x1="653.20" y1="405.70" x2="653.20" y2="401.30" stroke="#262626" stroke-width="1.35" stroke-dasharray="5.0,3.35"/>
<line x1="643.68" y1="392.70" x2="662.73" y2="392.70" stroke="#262626" stroke-width="1.35"/>
<line x1="643.68" y1="405.70" x2="662.73" y2="405.70" stroke="#262626" stroke-width="1.35"/>
<rect x="634.70" y="395.20" width="36.90" height="6.10" fill="#fff" stroke="#262626" stroke-width="1.35"/>
<line x1="634.70" y1="396.60" x2="671.60" y2="396.60" stroke="#000" stroke-width="2.2"/>
<circle cx="653.20" cy="381.50" r="2.15" fill="none" stroke="#111" stroke-width="1.25"/>
<circle cx="653.20" cy="387.00" r="2.15" fill="none" stroke="#111" stroke-width="1.25"/>
<line x1="483.30" y1="390.50" x2="683.50" y2="390.50" stroke="#262626" stroke-width="1.35"/>
<rect x="483.30" y="244.30" width="200.20" height="28.70" fill="none" stroke="#262626" stroke-width="1.35"/>
<rect x="483.30" y="276.20" width="200.20" height="138.10" fill="none" stroke="#262626" stroke-width="1.35"/>
<line x1="476.30" y1="391.80" x2="483.30" y2="391.80" stroke="#262626" stroke-width="1.35"/>
<line x1="476.30" y1="370.80" x2="483.30" y2="370.80" stroke="#262626" stroke-width="1.35"/>
<line x1="476.30" y1="349.80" x2="483.30" y2="349.80" stroke="#262626" stroke-width="1.35"/>
<line x1="476.30" y1="328.80" x2="483.30" y2="328.80" stroke="#262626" stroke-width="1.35"/>
<line x1="476.30" y1="307.80" x2="483.30" y2="307.80" stroke="#262626" stroke-width="1.35"/>
<line x1="476.30" y1="286.80" x2="483.30" y2="286.80" stroke="#262626" stroke-width="1.35"/>
<text transform="translate(468.20,391.80) rotate(-90) scale(0.97,1)" text-anchor="middle" font-size="12.4" fill="#141414" stroke="#141414" stroke-width="0.15">10</text>
<text transform="translate(468.20,349.80) rotate(-90) scale(0.97,1)" text-anchor="middle" font-size="12.4" fill="#141414" stroke="#141414" stroke-width="0.15">30</text>
<text transform="translate(468.20,307.80) rotate(-90) scale(0.97,1)" text-anchor="middle" font-size="12.4" fill="#141414" stroke="#141414" stroke-width="0.15">50</text>
<text transform="translate(468.20,251.20) rotate(-90) scale(0.97,1)" text-anchor="middle" font-size="12.4" fill="#141414" stroke="#141414" stroke-width="0.15">115</text>
<line x1="471.30" y1="244.10" x2="485.20" y2="244.10" stroke="#1a1a1a" stroke-width="1.6"/>
<line x1="513.10" y1="414.30" x2="513.10" y2="421.20" stroke="#262626" stroke-width="1.35"/>
<text x="512.30" y="439.80" text-anchor="middle" font-size="12.2" textLength="12.8" lengthAdjust="spacingAndGlyphs" fill="#1a1a1a" stroke="#1a1a1a" stroke-width="0.4">BE</text>
<line x1="560.50" y1="414.30" x2="560.50" y2="421.20" stroke="#262626" stroke-width="1.35"/>
<text x="559.80" y="439.80" text-anchor="middle" font-size="12.2" textLength="19.8" lengthAdjust="spacingAndGlyphs" fill="#1a1a1a" stroke="#1a1a1a" stroke-width="0.4">FNE</text>
<line x1="606.60" y1="414.30" x2="606.60" y2="421.20" stroke="#262626" stroke-width="1.35"/>
<text x="605.80" y="439.80" text-anchor="middle" font-size="12.2" textLength="19.4" lengthAdjust="spacingAndGlyphs" fill="#1a1a1a" stroke="#1a1a1a" stroke-width="0.4">Zoo</text>
<line x1="653.00" y1="414.30" x2="653.00" y2="421.20" stroke="#262626" stroke-width="1.35"/>
<text x="652.00" y="439.80" text-anchor="middle" font-size="12.2" textLength="14.2" lengthAdjust="spacingAndGlyphs" fill="#1a1a1a" stroke="#1a1a1a" stroke-width="0.4">FR</text>
<text transform="translate(583.30,237.00) scale(0.9259,1)" text-anchor="middle" font-size="15.2" font-weight="bold" fill="#111">TWBC (x10^9/L)</text>
</svg>
</body></html>
